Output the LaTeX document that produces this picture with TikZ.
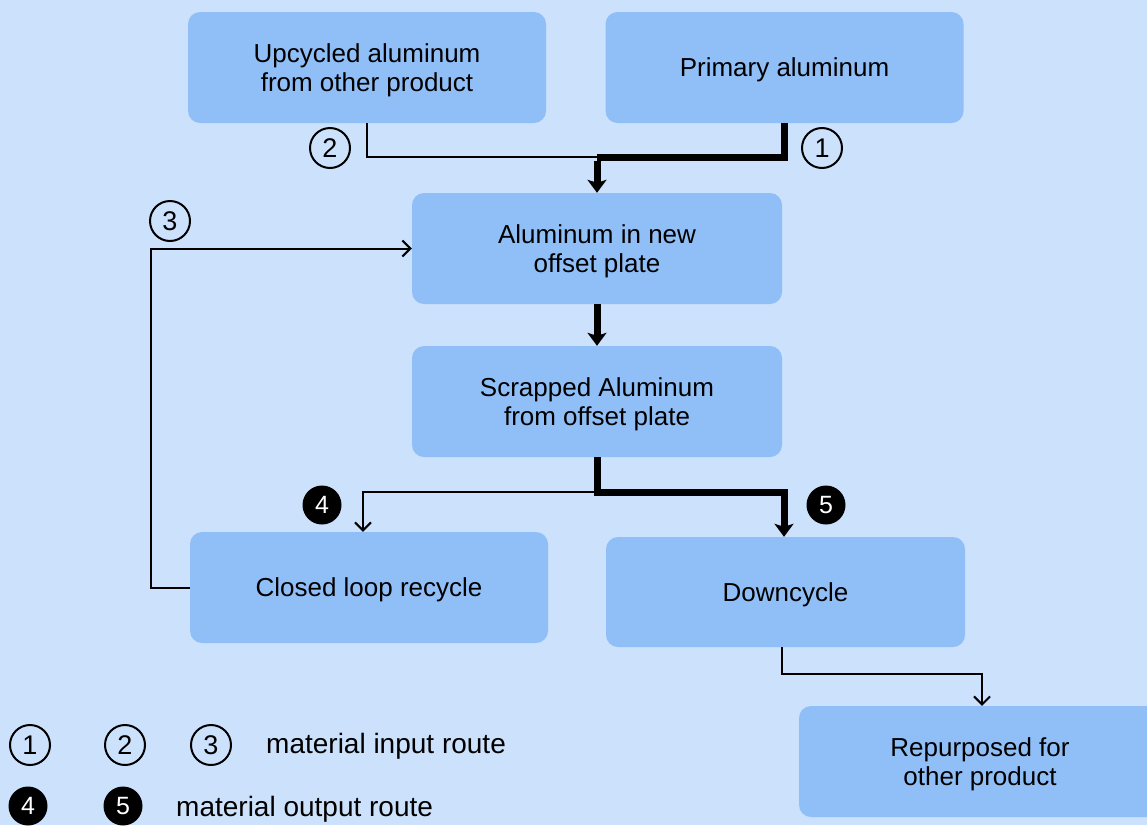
\documentclass[tikz,border=0pt]{standalone}
\usepackage{fontspec}
\setmainfont{Liberation Sans}
\usetikzlibrary{arrows.meta}
\definecolor{bgblue}{HTML}{CCE1FB}
\definecolor{boxblue}{HTML}{90BFF8}
\tikzset{
  flowbox/.style={rectangle, rounded corners=12pt, fill=boxblue, draw=none,
    minimum width=358pt, minimum height=111pt, align=center, inner sep=0pt,
    text depth=-1pt, font=\fontsize{26}{29}\selectfont},
  thinline/.style={line width=2pt, line join=miter},
  thickline/.style={line width=7pt, line join=miter},
  openhead/.style={-{Straight Barb[length=8pt, width=16pt, line width=2pt]}},
  fullhead/.style={-{Stealth[length=13pt, width=19pt, inset=3pt]}},
  ringnum/.style={circle, draw=black, line width=2pt, minimum size=40pt,
    inner sep=0pt, font=\fontsize{27}{27}\selectfont},
  dotnum/.style={circle, fill=black, text=white, minimum size=39pt,
    inner sep=0pt, font=\fontsize{25}{25}\selectfont},
  legendtext/.style={anchor=west, inner sep=0pt, font=\fontsize{28}{30}\selectfont}
}
\begin{document}
\begin{tikzpicture}[x=1pt, y=-1pt]
\clip (0,0) rectangle (1147,825);
\fill[bgblue] (0,0) rectangle (1147,825);

% process boxes
\node[flowbox] (up)   at (367,67.5)  {Upcycled aluminum\\from other product};
\node[flowbox] (prim) at (784.5,67.5) {Primary aluminum};
\node[flowbox, minimum width=370pt] (alnew) at (597,248.5) {Aluminum in new\\offset plate};
\node[flowbox, minimum width=370pt] (scrap) at (597,401.5) {Scrapped Aluminum\\from offset plate};
\node[flowbox] (closed) at (369,587.5) {Closed loop recycle};
\node[flowbox, minimum width=359pt, minimum height=110pt] (down) at (785.5,592) {Downcycle};
\node[flowbox, minimum width=362pt] (rep) at (980,761.5) {Repurposed for\\other product};

% junction points
\coordinate (jin)  at (597,157);
\coordinate (jout) at (597,492);
\coordinate (jrec) at (982,674);

% inputs into the new plate
\draw[thinline] (up.south) |- (jin);
\draw[thickline, line cap=butt] (prim.south) |- (jin);
\draw[thickline, fullhead] ([yshift=-3.5pt]jin) -- (alnew.north);

% plate to scrap
\draw[thickline, fullhead] (alnew.south) -- (scrap.north);

% scrap split into the two output routes
\draw[thickline] (scrap.south) -- (jout);
\draw[thinline, openhead] (jout) -| ([xshift=-6pt]closed.north);
\draw[thickline, fullhead] ([xshift=-3.5pt]jout) -| ([xshift=-1.5pt]down.north);

% closed loop back into the new plate
\draw[thinline, openhead] (closed.west) -- ++(-39,0) |- (alnew.west);

% downcycle to repurposing
\draw[thinline, openhead] ([xshift=-3.5pt]down.south) |- (jrec) -- (rep.north -| jrec);

% route markers
\node[ringnum] (n2) at (330,148) {2};
\node[ringnum] (n1) at (822,148) {1};
\node[ringnum] (n3) at (170,221) {3};
\node[dotnum]  (n4) at (322,505) {4};
\node[dotnum]  (n5) at (826,505) {5};

% legend
\node[ringnum] (l1) at (30,745) {1};
\node[ringnum] (l2) at (125,745) {2};
\node[ringnum] (l3) at (211,745) {3};
\node[legendtext] (lin) at (266,746) {material input route};
\node[dotnum] (l4) at (28,806) {4};
\node[dotnum] (l5) at (123,806) {5};
\node[legendtext] (lout) at (176,809) {material output route};
\end{tikzpicture}
\end{document}
